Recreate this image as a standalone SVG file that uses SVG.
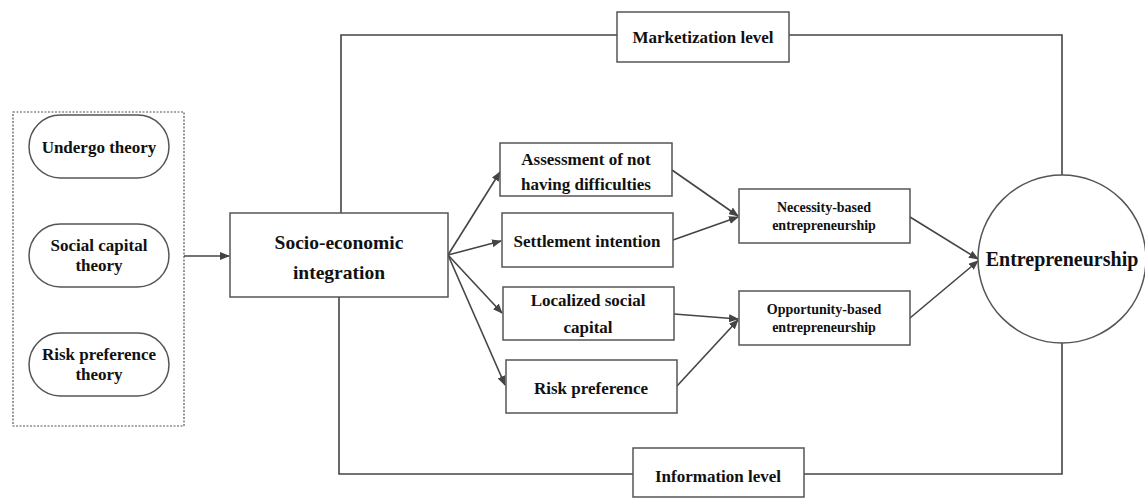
<svg xmlns="http://www.w3.org/2000/svg" width="1145" height="502" viewBox="0 0 1145 502">
<defs>
<marker id="ah" markerWidth="10" markerHeight="8" refX="9" refY="4" orient="auto" markerUnits="userSpaceOnUse">
<path d="M0,0 L10,4 L0,8 Z" fill="#444"/>
</marker>
<style>
.box{fill:#fff;stroke:#555;stroke-width:1.5}
.ln{fill:none;stroke:#444;stroke-width:1.6}
.t{font-family:"Liberation Serif","Times New Roman",serif;font-weight:bold;fill:#111;text-anchor:middle}
</style>
</defs>
<rect width="1145" height="502" fill="#fff"/>
<g id="connectors">
<path class="ln" d="M341,213 V35 H617"/>
<path class="ln" d="M789,35 H1062 V175"/>
<path class="ln" d="M339,297 V474 H633"/>
<path class="ln" d="M804,474 H1062 V343"/>
<line class="ln" x1="184" y1="256" x2="229" y2="256" marker-end="url(#ah)"/>
<line class="ln" x1="448" y1="255" x2="500" y2="172" marker-end="url(#ah)"/>
<line class="ln" x1="448" y1="255" x2="501" y2="241" marker-end="url(#ah)"/>
<line class="ln" x1="448" y1="255" x2="502" y2="313" marker-end="url(#ah)"/>
<line class="ln" x1="448" y1="255" x2="505" y2="385" marker-end="url(#ah)"/>
<line class="ln" x1="672" y1="170" x2="738" y2="216" marker-end="url(#ah)"/>
<line class="ln" x1="673" y1="240" x2="738" y2="217" marker-end="url(#ah)"/>
<line class="ln" x1="674" y1="314" x2="738" y2="319" marker-end="url(#ah)"/>
<line class="ln" x1="677" y1="386" x2="738" y2="320" marker-end="url(#ah)"/>
<line class="ln" x1="910" y1="217" x2="978" y2="259" marker-end="url(#ah)"/>
<line class="ln" x1="910" y1="318" x2="978" y2="261" marker-end="url(#ah)"/>
</g>
<g id="theories">
<rect x="13" y="112" width="171" height="314" fill="none" stroke="#555" stroke-width="1.2" stroke-dasharray="2,1.5"/>
</g>
<g id="undergo">
<rect class="box" x="29" y="115" width="140" height="63" rx="31.5" stroke-width="1.2"/>
<text class="t" x="99" y="153" font-size="17">Undergo theory</text>
</g>
<g id="social-capital">
<rect class="box" x="29" y="224" width="140" height="63" rx="31.5" stroke-width="1.2"/>
<text class="t" x="99" y="251" font-size="17">Social capital</text>
<text class="t" x="99" y="271" font-size="17">theory</text>
</g>
<g id="risk-theory">
<rect class="box" x="29" y="333" width="140" height="63" rx="31.5" stroke-width="1.2"/>
<text class="t" x="99" y="360" font-size="17">Risk preference</text>
<text class="t" x="99" y="380" font-size="17">theory</text>
</g>
<g id="socio">
<rect class="box" x="230" y="213" width="218" height="84"/>
<text class="t" x="339" y="249" font-size="19.5">Socio-economic</text>
<text class="t" x="339" y="279" font-size="19.5">integration</text>
</g>
<g id="marketization">
<rect class="box" x="617" y="12" width="172" height="50"/>
<text class="t" x="703" y="43" font-size="17">Marketization level</text>
</g>
<g id="information">
<rect class="box" x="633" y="448" width="171" height="49"/>
<text class="t" x="718" y="482" font-size="17">Information level</text>
</g>
<g id="assessment">
<rect class="box" x="500" y="143" width="172" height="53"/>
<text class="t" x="586" y="165" font-size="17">Assessment of not</text>
<text class="t" x="586" y="190" font-size="17">having difficulties</text>
</g>
<g id="settlement">
<rect class="box" x="502" y="213" width="171" height="54"/>
<text class="t" x="587" y="247" font-size="17">Settlement intention</text>
</g>
<g id="localized">
<rect class="box" x="503" y="287" width="171" height="53"/>
<text class="t" x="588" y="306" font-size="17">Localized social</text>
<text class="t" x="588" y="333" font-size="17">capital</text>
</g>
<g id="risk">
<rect class="box" x="506" y="360" width="171" height="53"/>
<text class="t" x="591" y="394" font-size="17">Risk preference</text>
</g>
<g id="necessity">
<rect class="box" x="739" y="189" width="171" height="54"/>
<text class="t" x="824" y="212" font-size="14">Necessity-based</text>
<text class="t" x="824" y="230" font-size="14">entrepreneurship</text>
</g>
<g id="opportunity">
<rect class="box" x="739" y="291" width="171" height="54"/>
<text class="t" x="824" y="314" font-size="14">Opportunity-based</text>
<text class="t" x="824" y="332" font-size="14">entrepreneurship</text>
</g>
<g id="entrepreneurship">
<circle class="box" cx="1062" cy="259" r="84" stroke-width="1.2"/>
<text class="t" x="1062" y="266" font-size="20">Entrepreneurship</text>
</g>
</svg>
